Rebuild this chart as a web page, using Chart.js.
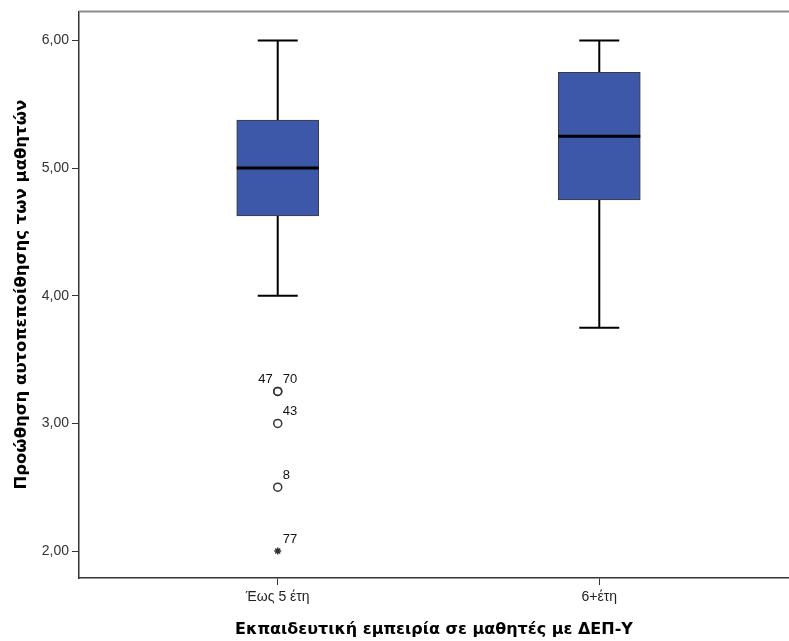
<!DOCTYPE html>
<html>
<head>
<meta charset="utf-8">
<script src="https://cdn.jsdelivr.net/npm/chart.js@4"></script>
<style>
  html, body { margin: 0; padding: 0; background: #ffffff; overflow: hidden; }
  #wrap { position: relative; width: 789px; height: 641px; }
</style>
</head>
<body>
<div id="wrap"><canvas id="boxChart"></canvas></div>
<script>
// categories and box statistics
const categories = ['Έως 5 έτη', '6+έτη'];
const categoryPositions = [1, 2];
const whiskerLow = [4.0, 3.75];
const quartile1 = [4.625, 4.75];
const medians = [5.0, 5.25];
const quartile3 = [5.375, 5.75];
const whiskerHigh = [6.0, 6.0];

// outliers (case numbers shown next to them)
const outlierGroup = [1, 1, 1, 1, 1];
const outlierValues = [3.25, 3.25, 3.0, 2.5, 2.0];
const outlierIds = ['47', '70', '43', '8', '77'];
const outlierExtreme = [false, false, false, false, true];

const yTickValues = [2, 3, 4, 5, 6];

const boxColor = '#3d58a8';

const boxplotExtras = {
    id: 'boxplotExtras',
    beforeDatasetsDraw(chart) {
        const { ctx, scales: { x, y } } = chart;
        ctx.save();
        ctx.strokeStyle = '#000000';
        ctx.lineWidth = 2;
        categoryPositions.forEach((pos, i) => {
            const px = x.getPixelForValue(pos);
            const cap = 20;
            ctx.beginPath();
            // upper whisker
            ctx.moveTo(px, y.getPixelForValue(quartile3[i]));
            ctx.lineTo(px, y.getPixelForValue(whiskerHigh[i]));
            ctx.moveTo(px - cap, y.getPixelForValue(whiskerHigh[i]));
            ctx.lineTo(px + cap, y.getPixelForValue(whiskerHigh[i]));
            // lower whisker
            ctx.moveTo(px, y.getPixelForValue(quartile1[i]));
            ctx.lineTo(px, y.getPixelForValue(whiskerLow[i]));
            ctx.moveTo(px - cap, y.getPixelForValue(whiskerLow[i]));
            ctx.lineTo(px + cap, y.getPixelForValue(whiskerLow[i]));
            ctx.stroke();
        });
        ctx.restore();
    },
    afterDatasetsDraw(chart) {
        const { ctx, chartArea, scales: { x, y } } = chart;
        ctx.save();
        // medians
        const boxMeta = chart.getDatasetMeta(0);
        ctx.strokeStyle = '#000000';
        ctx.lineWidth = 3;
        boxMeta.data.forEach((bar, i) => {
            const half = bar.width / 2;
            const py = y.getPixelForValue(medians[i]);
            ctx.beginPath();
            ctx.moveTo(bar.x - half, py);
            ctx.lineTo(bar.x + half, py);
            ctx.stroke();
        });
        // outlier labels
        ctx.fillStyle = '#111111';
        ctx.font = '13px "Liberation Sans", Arial, sans-serif';
        ctx.textBaseline = 'middle';
        const seen = {};
        outlierValues.forEach((v, i) => {
            const px = x.getPixelForValue(outlierGroup[i]);
            const py = y.getPixelForValue(v);
            const key = outlierGroup[i] + ':' + v;
            const shared = outlierValues.filter((w, j) => w === v && outlierGroup[j] === outlierGroup[i]).length > 1;
            if (shared && !seen[key]) {
                ctx.textAlign = 'right';
                ctx.fillText(outlierIds[i], px - 5, py - 12);
            } else {
                ctx.textAlign = 'left';
                ctx.fillText(outlierIds[i], px + 5, py - 12);
            }
            seen[key] = true;
        });
        // top frame line
        ctx.strokeStyle = '#8c8c8c';
        ctx.lineWidth = 2;
        ctx.beginPath();
        ctx.moveTo(chartArea.left, chartArea.top);
        ctx.lineTo(chartArea.right, chartArea.top);
        ctx.stroke();
        ctx.restore();
    }
};

new Chart(document.getElementById('boxChart'), {
    type: 'bar',
    data: {
        datasets: [
            {
                type: 'bar',
                label: 'box',
                data: categoryPositions.map((pos, i) => ({ x: pos, y: [quartile1[i], quartile3[i]] })),
                backgroundColor: boxColor,
                borderColor: '#3a3a3a',
                borderWidth: 1,
                borderSkipped: false,
                barThickness: 82,
                grouped: false
            },
            {
                type: 'scatter',
                label: 'outliers',
                data: outlierValues.map((v, i) => ({ x: outlierGroup[i], y: v })),
                pointStyle: outlierExtreme.map(e => e ? 'star' : 'circle'),
                radius: outlierExtreme.map(e => e ? 3.5 : 4),
                borderColor: '#333333',
                backgroundColor: 'rgba(255, 255, 255, 0)',
                borderWidth: 1.5
            }
        ]
    },
    options: {
        responsive: true,
        maintainAspectRatio: false,
        animation: false,
        layout: { autoPadding: false, padding: { top: 10, right: 0, left: 0, bottom: 0 } },
        plugins: {
            legend: { display: false },
            tooltip: { enabled: false }
        },
        scales: {
            x: {
                type: 'linear',
                offset: false,
                min: 0.382,
                max: 2.59,
                afterBuildTicks: scale => { scale.ticks = categoryPositions.map(v => ({ value: v })); },
                afterFit: scale => { scale.height = 63; },
                grid: { offset: false, drawOnChartArea: false, tickLength: 7, tickColor: '#333333' },
                border: { color: '#333333', width: 1.5 },
                ticks: {
                    color: '#222222',
                    padding: 4,
                    font: { family: '"Liberation Sans", Arial, sans-serif', size: 14 },
                    callback: value => categories[categoryPositions.indexOf(value)] || ''
                },
                title: {
                    display: true,
                    text: 'Εκπαιδευτική εμπειρία σε μαθητές με ΔΕΠ-Υ',
                    color: '#000000',
                    padding: { top: 0, bottom: 2 },
                    font: { family: '"DejaVu Sans", sans-serif', size: 16, weight: 'bold' }
                }
            },
            y: {
                min: 1.789,
                max: 6.227,
                afterBuildTicks: scale => { scale.ticks = yTickValues.map(v => ({ value: v })); },
                afterFit: scale => { scale.width = 79; },
                grid: { drawOnChartArea: false, tickLength: 7, tickColor: '#333333' },
                border: { color: '#333333', width: 1.5 },
                ticks: {
                    color: '#333333',
                    padding: 3,
                    font: { family: '"Liberation Sans", Arial, sans-serif', size: 14 },
                    callback: value => value.toFixed(2).replace('.', ',')
                },
                title: {
                    display: true,
                    text: 'Προώθηση αυτοπεποίθησης των μαθητών',
                    color: '#000000',
                    padding: { top: 12, bottom: 0 },
                    font: { family: '"DejaVu Sans", sans-serif', size: 16.5, weight: 'bold' }
                }
            }
        }
    },
    plugins: [boxplotExtras]
});
</script>
</body>
</html>
